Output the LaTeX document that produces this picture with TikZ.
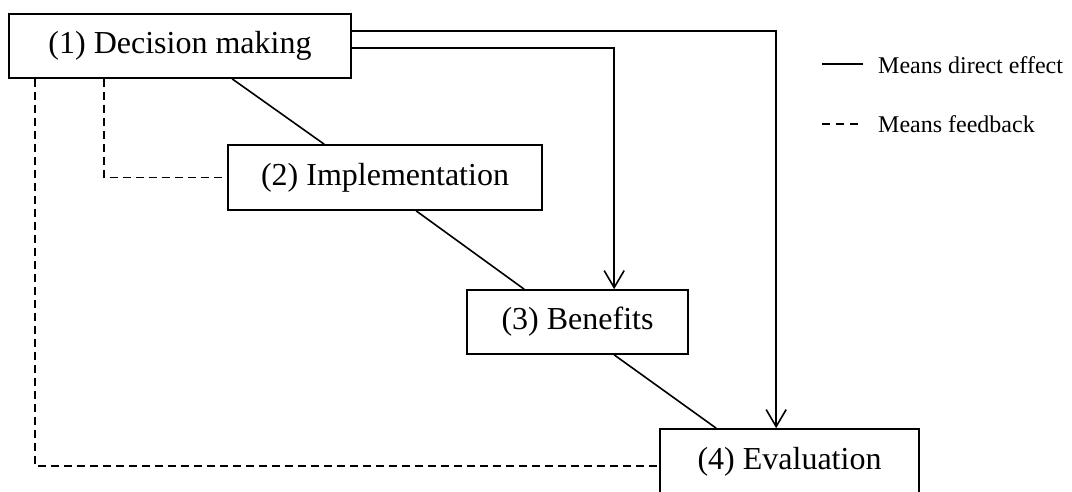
\documentclass[tikz,border=0pt]{standalone}
\usepackage{fontspec}
\setmainfont{Liberation Serif}
\usetikzlibrary{arrows.meta,calc}
\begin{document}
\begin{tikzpicture}[x=1pt,y=-1pt,
  box/.style={draw, line width=1.7pt, rectangle, inner sep=0pt, font=\fontsize{32}{36}\selectfont},
  effect/.style={line width=1.6pt},
  feedback/.style={line width=1.6pt, dash pattern=on 8pt off 5pt},
  arr/.style={effect, -{Straight Barb[length=17pt,width=20pt,line width=1.6pt]}},
  legendtext/.style={anchor=west, inner sep=0pt, font=\fontsize{24}{28}\selectfont}]
\useasboundingbox (0,0) rectangle (1072,491);
\clip (0,0) rectangle (1072,491);

% stages
\node[box, minimum width=342pt, minimum height=64pt] (dm) at (180,46) {(1) Decision making};
\node[box, minimum width=314pt, minimum height=65pt] (impl) at (385,177.5) {(2) Implementation};
\node[box, minimum width=221pt, minimum height=64pt] (ben) at (577.5,322) {(3) Benefits};
\node[box, minimum width=259pt, minimum height=66pt] (eval) at (789.5,462) {(4) Evaluation};

% direct effects between consecutive stages
\draw[effect] ($(dm.south west)+(224,0)$) -- ($(impl.north west)+(97,0)$);
\draw[effect] ($(impl.south west)+(189,0)$) -- ($(ben.north west)+(58,0)$);
\draw[effect] ($(ben.south west)+(148,0)$) -- ($(eval.north west)+(57,0)$);

% direct effects from decision making
\coordinate (evaltop) at ($(eval.north west)+(117,0)$);
\coordinate (bentop) at ($(ben.north west)+(148,0)$);
\draw[arr] ($(dm.north east)+(0,18)$) -| (evaltop);
\draw[arr] ($(dm.north east)+(0,35)$) -| (bentop);

% feedback loops
\draw[feedback] ($(dm.south west)+(96,0)$) |- (impl.west);
\draw[feedback] ($(dm.south west)+(27,0)$) |- ($(eval.north west)+(0,38)$);

% legend
\coordinate (l1a) at (822,64);
\coordinate (l1b) at (863,64);
\coordinate (l2a) at (822,124);
\coordinate (l2b) at (858,124);
\draw[effect] (l1a) -- (l1b);
\draw[line width=1.6pt, dash pattern=on 8pt off 6pt] (l2a) -- (l2b);
\node[legendtext] (lt1) at (878,65) {Means direct effect};
\node[legendtext] (lt2) at (878,124) {Means feedback};
\end{tikzpicture}
\end{document}
